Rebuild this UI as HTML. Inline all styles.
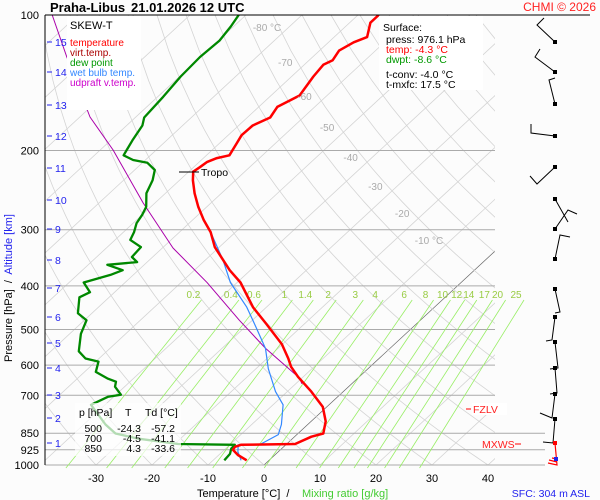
<!DOCTYPE html>
<html><head><meta charset="utf-8"><style>
html,body{margin:0;padding:0;background:#fcfcfc;}
svg{display:block;font-family:"Liberation Sans",sans-serif;}
svg text{white-space:pre;}
</style></head><body>
<svg id="c" width="600" height="500" viewBox="0 0 600 500" xmlns="http://www.w3.org/2000/svg">
<defs><clipPath id="plot"><rect x="45" y="15" width="450" height="450"/></clipPath></defs>
<rect x="0" y="0" width="600" height="500" fill="#fcfcfc"/>
<g id="grid" clip-path="url(#plot)"></g>
<g id="plines"></g>
<g id="mix"></g>
<g id="series" clip-path="url(#plot)"></g>
<g id="axes"></g>
<g id="wind"></g>

<text x="50" y="12" font-size="13" font-weight="bold">Praha-Libus</text>
<text x="131" y="12" font-size="13" font-weight="bold">21.01.2026 12 UTC</text>
<text x="596" y="11" font-size="12" fill="#f22" text-anchor="end">CHMI © 2026</text>
<line x1="45" y1="15" x2="590" y2="15" stroke="#000"/>

<g>
<rect x="67" y="16" width="74" height="94" fill="#fff"/>
<text x="70" y="29" font-size="11">SKEW-T</text>
<text x="70" y="46" font-size="10" fill="#f00">temperature</text>
<text x="70" y="56" font-size="10" fill="#a00">virt.temp.</text>
<text x="70" y="66" font-size="10" fill="#090">dew point</text>
<text x="70" y="76" font-size="10" fill="#38f">wet bulb temp.</text>
<text x="70" y="86" font-size="10" fill="#c0c">udpraft v.temp.</text>
</g>

<g>
<rect x="379" y="16" width="104" height="74" fill="#fff"/>
<text x="383" y="31" font-size="10.5">Surface:</text>
<text x="386" y="43" font-size="10.5">press: 976.1 hPa</text>
<text x="386" y="53" font-size="10.5" fill="#f00">temp: -4.3 °C</text>
<text x="386" y="63" font-size="10.5" fill="#090">dwpt: -8.6 °C</text>
<text x="386" y="78" font-size="10.5">t-conv: -4.0 °C</text>
<text x="386" y="88" font-size="10.5">t-mxfc: 17.5 °C</text>
</g>

<g>
<rect x="75" y="403" width="106" height="53" fill="#fff" fill-opacity="0.7"/>
<text x="79" y="416" font-size="10.5">p [hPa]</text>
<text x="125" y="416" font-size="10.5">T</text>
<text x="145" y="416" font-size="10.5">Td [°C]</text>
<text x="102" y="432" font-size="10.5" text-anchor="end">500</text>
<text x="141" y="432" font-size="10.5" text-anchor="end">-24.3</text>
<text x="175" y="432" font-size="10.5" text-anchor="end">-57.2</text>
<text x="102" y="442" font-size="10.5" text-anchor="end">700</text>
<text x="141" y="442" font-size="10.5" text-anchor="end">-4.5</text>
<text x="175" y="442" font-size="10.5" text-anchor="end">-41.1</text>
<text x="102" y="452" font-size="10.5" text-anchor="end">850</text>
<text x="141" y="452" font-size="10.5" text-anchor="end">4.3</text>
<text x="175" y="452" font-size="10.5" text-anchor="end">-33.6</text>
</g>

<line x1="179" y1="172" x2="199" y2="172" stroke="#000"/>
<text x="201" y="176" font-size="10.5">Tropo</text>
<line x1="466" y1="409" x2="471" y2="409" stroke="#f00"/>
<rect x="472" y="403" width="35" height="12" fill="#fff"/>
<text x="473" y="413" font-size="10.5" fill="#f22">FZLV</text>
<text x="482" y="448" font-size="10.5" fill="#f22">MXWS</text>
<line x1="515" y1="444" x2="521" y2="444" stroke="#f00"/>

<text x="197" y="497" font-size="11">Temperature [°C]  /</text>
<text x="302" y="497" font-size="11" fill="#4c3">Mixing ratio [g/kg]</text>
<text x="590" y="497" font-size="10.5" fill="#22e" text-anchor="end">SFC: 304 m ASL</text>
<text transform="translate(12,362) rotate(-90)" font-size="11">Pressure [hPa]  /  <tspan fill="#22e">Altitude [km]</tspan></text>
</svg>
<script>
// ---- data ----
var tempP=[100,104,112,115,120,126,129,137,145,151,160,169,176,185,193,205,208,212,218,223,233,249,267,285,304,328,369,393,446,485,539,580,605,637,687,743,800,851,865,898,902,911,925,950,976];
var tempT=[-66.3,-66.3,-64.1,-65.5,-66.5,-65.8,-66.6,-66.1,-65.4,-64.9,-66.7,-65.9,-67.5,-67.6,-66.9,-65.9,-67.6,-68.6,-68.9,-69.2,-67.6,-64.8,-61.5,-58.1,-54.4,-50.8,-43.7,-39.4,-32.4,-26.9,-20.1,-16.2,-14.1,-10.9,-5.7,-0.7,2.6,4.5,3.0,1.5,-8.0,-8.7,-8.5,-6.6,-4.0];
var dewP=[100,106,114,124,137,152,169,176,190,198,205,210,213,221,233,249,267,278,290,304,316,328,345,354,359,369,378,393,413,424,460,477,511,559,580,589,621,643,653,670,698,705,735,813,851,874,898,902,920,945,976];
var dewT=[-91.3,-90.5,-89.8,-90.1,-89.8,-89,-88.4,-87.2,-86.1,-85.4,-84.8,-82.2,-79.1,-76.4,-74.8,-73.4,-70.8,-70,-69.4,-68.1,-67.3,-64,-63.7,-61.8,-66.6,-62.8,-64.1,-67.4,-64.4,-65.3,-62.5,-59.6,-58.0,-55,-52.4,-49.5,-48,-44.5,-42.5,-41.7,-39.1,-41,-42.5,-36.1,-32.6,-27.5,-19.4,-9.1,-9,-8.2,-8.0];
var wetP=[304,350,393,446,495,551,611,687,735,813,856,898,902,935,976];
var wetT=[-54.4,-46.9,-41.2,-33.5,-27.9,-22.2,-17.8,-12.1,-8.2,-4.7,-3.3,-4.6,-8.5,-7.2,-5.0];
var updP=[100,124,168.5,199.5,261.7,329.4,393.4,476.8,550.6,641,660];
var updT=[-124.6,-113.9,-98.2,-87.7,-72.1,-58.1,-45.3,-32.3,-22.2,-10.4,-8.9];
var pLevels=[200,300,400,500,600,700,850,925,1000];
var pLabels=["100","200","300","400","500","600","700","850","925","1000"];
var pLabelVals=[100,200,300,400,500,600,700,850,925,1000];
var kmLabels=["15","14","13","12","11","10","9","8","7","6","5","4","3","2","1"];
var kmY=[42,72,105,136,168,200,229,260,288,317,343,368,395,418,443];
var tTicks=[-30,-20,-10,0,10,20,30,40];
var mixVals=[0.2,0.4,0.6,1,1.4,2,3,4,6,8,10,12,14,17,20,25];
var mixLabels=["0.2","0.4","0.6","1","1.4","2","3","4","6","8","10","12","14","17","20","25"];
var isoLabels=[-80,-70,-60,-50,-40,-30,-20,-10];
var isoLabelY=[27,62,96,127,157,186,213,240];

// ---- axis functions ----
var NS="http://www.w3.org/2000/svg";
function yP(p){return 15+450*Math.log10(p/100);}
function xT(T,y){return 264+5.6*T+1.08*(465-y);}
function mk(tag,attrs,parent){var e=document.createElementNS(NS,tag);for(var k in attrs)e.setAttribute(k,attrs[k]);parent.appendChild(e);return e;}
var grid=document.getElementById('grid'),pl=document.getElementById('plines'),mix=document.getElementById('mix'),ser=document.getElementById('series'),ax=document.getElementById('axes'),wind=document.getElementById('wind');

for(var T=-140;T<=50;T+=10){
  var l=mk('line',{x1:xT(T,465),y1:465,x2:xT(T,15),y2:15,stroke:(T===0?'#666':'#d4d4d4'),'stroke-width':(T===0?0.7:0.8)},grid);
  
  
}
for(var th=-40;th<=200;th+=10){
  var d='';
  for(var p=100;p<=1000;p+=20){var Tk=(th+273.15)*Math.pow(p/1000,0.286)-273.15;var y=yP(p);d+=(p===100?'M':'L')+xT(Tk,y).toFixed(1)+' '+y.toFixed(1);}
  var a=mk('path',{d:d,fill:'none',stroke:'#d4d4d4','stroke-width':0.8},grid);
  
  
}
for(var i=0;i<pLevels.length;i++){
  var pp=pLevels[i],yy=yP(pp);
  var ln=mk('line',{x1:45,y1:yy,x2:(pp>=850?545:495),y2:yy,stroke:'#aaa','stroke-width':1},pl);
  
  
}
for(var i=0;i<mixVals.length;i++){
  var w=mixVals[i],d='';
  var pts=[[1000,468],[430,300]];
  for(var j=0;j<2;j++){var p=pts[j][0],y=pts[j][1];var e=w*p/(622+w);var g=Math.log(e/6.112);var Td=243.5*g/(17.67-g);d+=(j?'L':'M')+xT(Td,y).toFixed(1)+' '+y;}
  var m=mk('path',{d:d,stroke:'#9e6','stroke-width':0.8,fill:'none'},mix);
  
  
  var p=430,e=w*p/(622+w),g=Math.log(e/6.112),Td=243.5*g/(17.67-g);
  var t=mk('text',{x:xT(Td,300)-8,y:298,'font-size':10,fill:'#9c4','text-anchor':'middle'},mix);
  t.textContent=mixLabels[i];
  
  
}
for(var i=0;i<isoLabels.length;i++){
  var y=isoLabelY[i];
  var t=mk('text',{x:xT(isoLabels[i],y)-22,y:y+4,'font-size':10,fill:'#aaa','text-anchor':'middle'},ax);
  t.textContent=isoLabels[i]+((i===0||i===7)?' °C':'');
  
  
}
function line(P,Tv,color,wdt,name){
  var d='';for(var i=0;i<P.length;i++){var y=yP(P[i]);d+=(i?'L':'M')+xT(Tv[i],y).toFixed(1)+' '+y.toFixed(1);}
  var s=mk('path',{d:d,fill:'none',stroke:color,'stroke-width':wdt,'stroke-linejoin':'round'},ser);
  
  
}
line(updP,updT,'#a0a',1,'updraft-line');
line(wetP,wetT,'#38f',1.2,'wet-bulb-line');
line(dewP,dewT,'#080',2.3,'dew-point-line');
line(tempP,tempT,'#f00',2.5,'temperature-line');
var yl=mk('line',{x1:45,y1:15,x2:45,y2:465,stroke:'#000'},ax);


for(var i=0;i<pLabels.length;i++){
  var t=mk('text',{x:39,y:yP(pLabelVals[i])+4,'font-size':11,'text-anchor':'end'},ax);
  t.textContent=pLabels[i];
  
  
}
for(var i=0;i<kmLabels.length;i++){
  var tk=mk('line',{x1:47,y1:kmY[i],x2:52,y2:kmY[i],stroke:'#22e'},ax);
  
  
  var t=mk('text',{x:55,y:kmY[i]+4,'font-size':10.5,fill:'#22e'},ax);
  t.textContent=kmLabels[i];
  
  
}
for(var i=0;i<tTicks.length;i++){
  var t=mk('text',{x:264+5.6*tTicks[i],y:482,'font-size':11,'text-anchor':'middle'},ax);
  t.textContent=tTicks[i];
  
  
}
var barbs=[[[555,42],[537,25],[544,18]],[[555,72],[535,57],[540,49]],[[555,104],[549,80],[555,78]],[[555,136],[531,133],[531,124]],[[555,167],[537,184],[530,176]],[[555,199],[568,222]],[[555,229],[568,210],[577,214]],[[555,259],[560,235],[570,237]],[[555,289],[560,312],[555,313]],[[555,317],[552,340],[546,341]],[[555,342],[558,368],[550,369]],[[555,368],[557,393],[550,394]],[[555,394],[552,418],[540,413]],[[555,419],[553,443],[543,442]]];
for(var i=0;i<barbs.length;i++){
  var b=barbs[i],d='';
  for(var j=0;j<b.length;j++)d+=(j?'L':'M')+b[j][0]+' '+b[j][1];
  var pth=mk('path',{d:d,fill:'none',stroke:'#000','stroke-width':1},wind);
  
  
  var dot=mk('rect',{x:b[0][0]-2,y:b[0][1]-2,width:4,height:4,fill:'#000'},wind);
  
  
}
var sb=mk('path',{d:'M555 443L557 465L548 463M557 462L549 460M557 459L552 458',fill:'none',stroke:'#f00','stroke-width':1.2},wind);


var sd=mk('rect',{x:553,y:441,width:4,height:4,fill:'#f00'},wind);


var bd=mk('rect',{x:554,y:457,width:4,height:4,fill:'#22e'},wind);


</script>
</body></html>
